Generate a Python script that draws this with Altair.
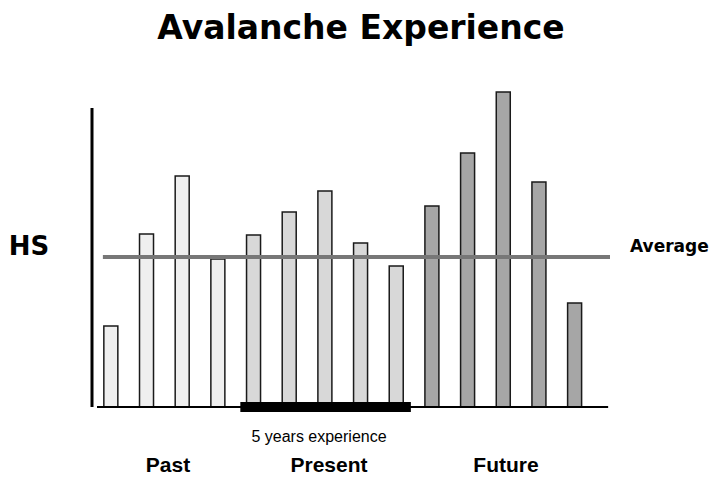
import altair as alt
import pandas as pd

# ---- data ----
title_text = "Avalanche Experience"
bar_index = list(range(1, 15))
groups = ["Past"] * 4 + ["Present"] * 5 + ["Future"] * 5
hs_values = [81, 173, 231, 148, 172, 195, 216, 164, 141, 201, 254, 315, 225, 104]
average_hs = 150
axis_top = 299
experience_span = [4.63, 9.41]
experience_label = "5 years experience"
group_labels = ["Past", "Present", "Future"]
group_colors = ["#efefef", "#d8d8d8", "#a6a6a6"]
y_label = "HS"
avg_label = "Average"

x_dom = [0.612, 14.992]
y_dom = [0, 315]

bars_df = pd.DataFrame({"idx": bar_index, "hs": hs_values, "group": groups})
xs = alt.Scale(domain=x_dom, nice=False, zero=False)
ys = alt.Scale(domain=y_dom, nice=False, zero=True)

bars = alt.Chart(bars_df).mark_bar(size=14, stroke="#1a1a1a", strokeWidth=1.5).encode(
    x=alt.X("idx:Q", scale=xs, axis=None),
    y=alt.Y("hs:Q", scale=ys, axis=None),
    color=alt.Color("group:N", scale=alt.Scale(domain=group_labels, range=group_colors), legend=None),
)

avg_df = pd.DataFrame({"x": [0.777], "x2": [x_dom[1]], "y": [average_hs]})
avg_rule = alt.Chart(avg_df).mark_rule(color="#777777", strokeWidth=4).encode(
    x=alt.X("x:Q", scale=xs, axis=None), x2="x2:Q", y=alt.Y("y:Q", scale=ys, axis=None)
)

yaxis_df = pd.DataFrame({"y": [0], "y2": [axis_top]})
yaxis_rule = alt.Chart(yaxis_df).mark_rule(color="#000000", strokeWidth=3).encode(
    x=alt.value(0), y=alt.Y("y:Q", scale=ys, axis=None), y2="y2:Q"
)

base_df = pd.DataFrame({"x": [x_dom[0]], "x2": [14.94], "y": [0]})
base_rule = alt.Chart(base_df).mark_rule(color="#000000", strokeWidth=2).encode(
    x=alt.X("x:Q", scale=xs, axis=None), x2="x2:Q", y=alt.Y("y:Q", scale=ys, axis=None)
)

exp_df = pd.DataFrame({"x": [experience_span[0]], "x2": [experience_span[1]], "y": [0]})
exp_rule = alt.Chart(exp_df).mark_rule(color="#000000", strokeWidth=10).encode(
    x=alt.X("x:Q", scale=xs, axis=None), x2="x2:Q", y=alt.Y("y:Q", scale=ys, axis=None)
)

heavy = "DejaVu Sans"
plain = "Liberation Sans"

def label(text, x, y, size, font, weight, align="center", baseline="alphabetic"):
    return alt.Chart(pd.DataFrame({"t": [text]})).mark_text(
        font=font, fontSize=size, fontWeight=weight, align=align, baseline=baseline, color="#000000"
    ).encode(text="t:N", x=alt.value(x), y=alt.value(y))

texts = [
    label(title_text, 269, -53, 33, heavy, "bold"),
    label(y_label, -63, 163, 26, heavy, "bold"),
    label(avg_label, 538, 160, 17, heavy, "bold", align="left"),
    label(experience_label, 227, 350, 16, plain, "normal"),
    label(group_labels[0], 76, 380, 21, plain, "bold"),
    label(group_labels[1], 237, 380, 21, plain, "bold"),
    label(group_labels[2], 414, 380, 21, plain, "bold"),
]

chart = alt.layer(bars, avg_rule, yaxis_rule, base_rule, exp_rule, *texts).properties(
    width=523, height=315,
    autosize=alt.AutoSizeParams(type="none"),
    padding={"left": 84, "top": 84, "right": 94, "bottom": 70},
    background="white",
).configure_view(stroke=None)

chart.save("out.html", embed_options={"renderer": "svg", "actions": False})
